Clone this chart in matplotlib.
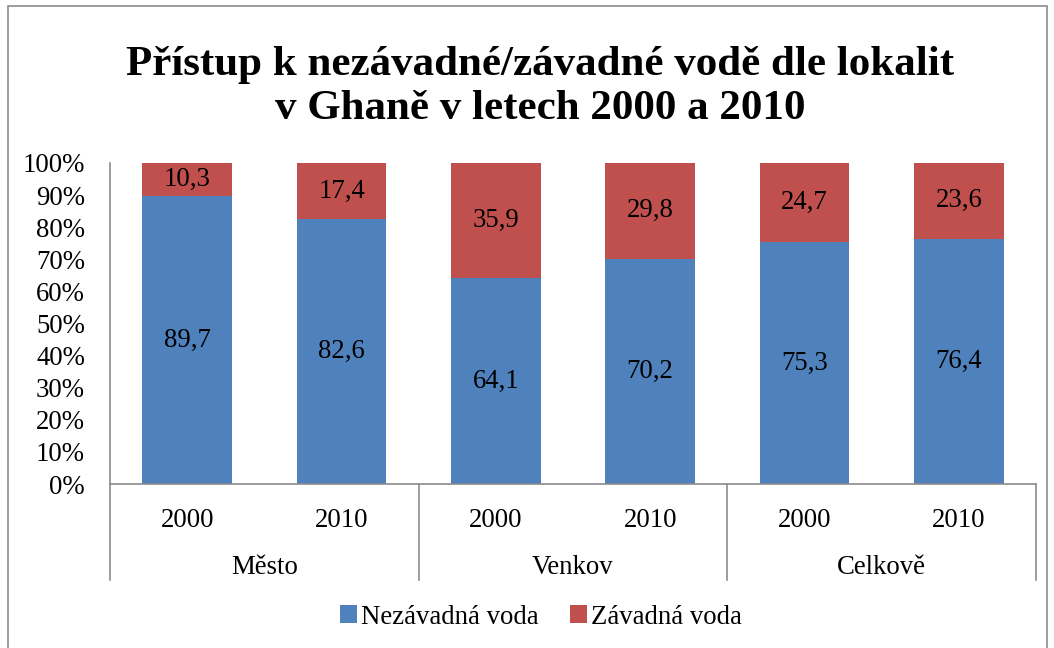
import matplotlib
matplotlib.use('Agg')
import matplotlib.pyplot as plt
from matplotlib.patches import Rectangle

# data
groups = ['Město', 'Venkov', 'Celkově']
years = ['2000', '2010']
safe_water = [89.7, 82.6, 64.1, 70.2, 75.3, 76.4]
unsafe_water = [10.3, 17.4, 35.9, 29.8, 24.7, 23.6]
series_names = ['Nezávadná voda', 'Závadná voda']

blue = '#4F81BD'
red = '#C0504D'
grey = '#8C8C8C'
fs = 19.3

plt.rcParams['font.family'] = ['Liberation Serif', 'DejaVu Serif']

fig = plt.figure(figsize=(10.54, 6.48), dpi=100)
ax = fig.add_axes([110 / 1054, 1 - 484 / 648, (1036 - 110) / 1054, (484 - 163) / 648])

x = list(range(len(safe_water)))
total = [a + b for a, b in zip(safe_water, unsafe_water)]
safe_pct = [a / t * 100 for a, t in zip(safe_water, total)]
unsafe_pct = [b / t * 100 for b, t in zip(unsafe_water, total)]

b1 = ax.bar(x, safe_pct, width=0.58, color=blue, label=series_names[0])
b2 = ax.bar(x, unsafe_pct, width=0.58, bottom=safe_pct, color=red, label=series_names[1])

fmt = lambda v: f'{v:.1f}'.replace('.', ',')
ax.bar_label(b1, labels=[fmt(v) for v in safe_water], label_type='center', fontsize=fs)
ax.bar_label(b2, labels=[fmt(v) for v in unsafe_water], label_type='center', fontsize=fs)

ax.set_xlim(-0.5, len(x) - 0.5)
ax.set_ylim(0, 100)
ax.set_yticks(range(0, 101, 10))
ax.set_yticklabels([f'{v}%' for v in range(0, 101, 10)], fontsize=fs)
ax.set_xticks(x)
ax.set_xticklabels(years * len(groups), fontsize=fs)
ax.tick_params(axis='both', length=0)
ax.tick_params(axis='x', pad=17)
ax.tick_params(axis='y', pad=18)

for s in ['top', 'right']:
    ax.spines[s].set_visible(False)
for s in ['left', 'bottom']:
    ax.spines[s].set_color(grey)
    ax.spines[s].set_linewidth(1.2)

# group separators and group labels under the axis
trans = ax.get_xaxis_transform()
for i in range(len(groups) + 1):
    xs = i * 2 - 0.5
    ax.plot([xs, xs], [0, -0.30], color=grey, lw=1.2, transform=trans, clip_on=False)
for i, g in enumerate(groups):
    ax.text(i * 2 + 0.5, -0.26, g, transform=trans, ha='center', va='center', fontsize=fs)

fig.suptitle('Přístup k nezávadné/závadné vodě dle lokalit\nv Ghaně v letech 2000 a 2010',
             x=540 / 1054, y=1 - 46 / 648, fontsize=31, fontweight='bold', linespacing=1.2)

fig.legend(loc='center', bbox_to_anchor=(541 / 1054, 1 - 617 / 648), ncol=2, frameon=False,
           fontsize=fs, handlelength=0.62, handleheight=0.62, handletextpad=0.15, columnspacing=1.2)

fig.patches.append(Rectangle((8 / 1054, -0.01), (1047 - 8) / 1054, 1 - 6 / 648 + 0.01,
                             transform=fig.transFigure, fill=False, edgecolor=grey, lw=1.2))

fig.savefig('out.png', dpi=100)
